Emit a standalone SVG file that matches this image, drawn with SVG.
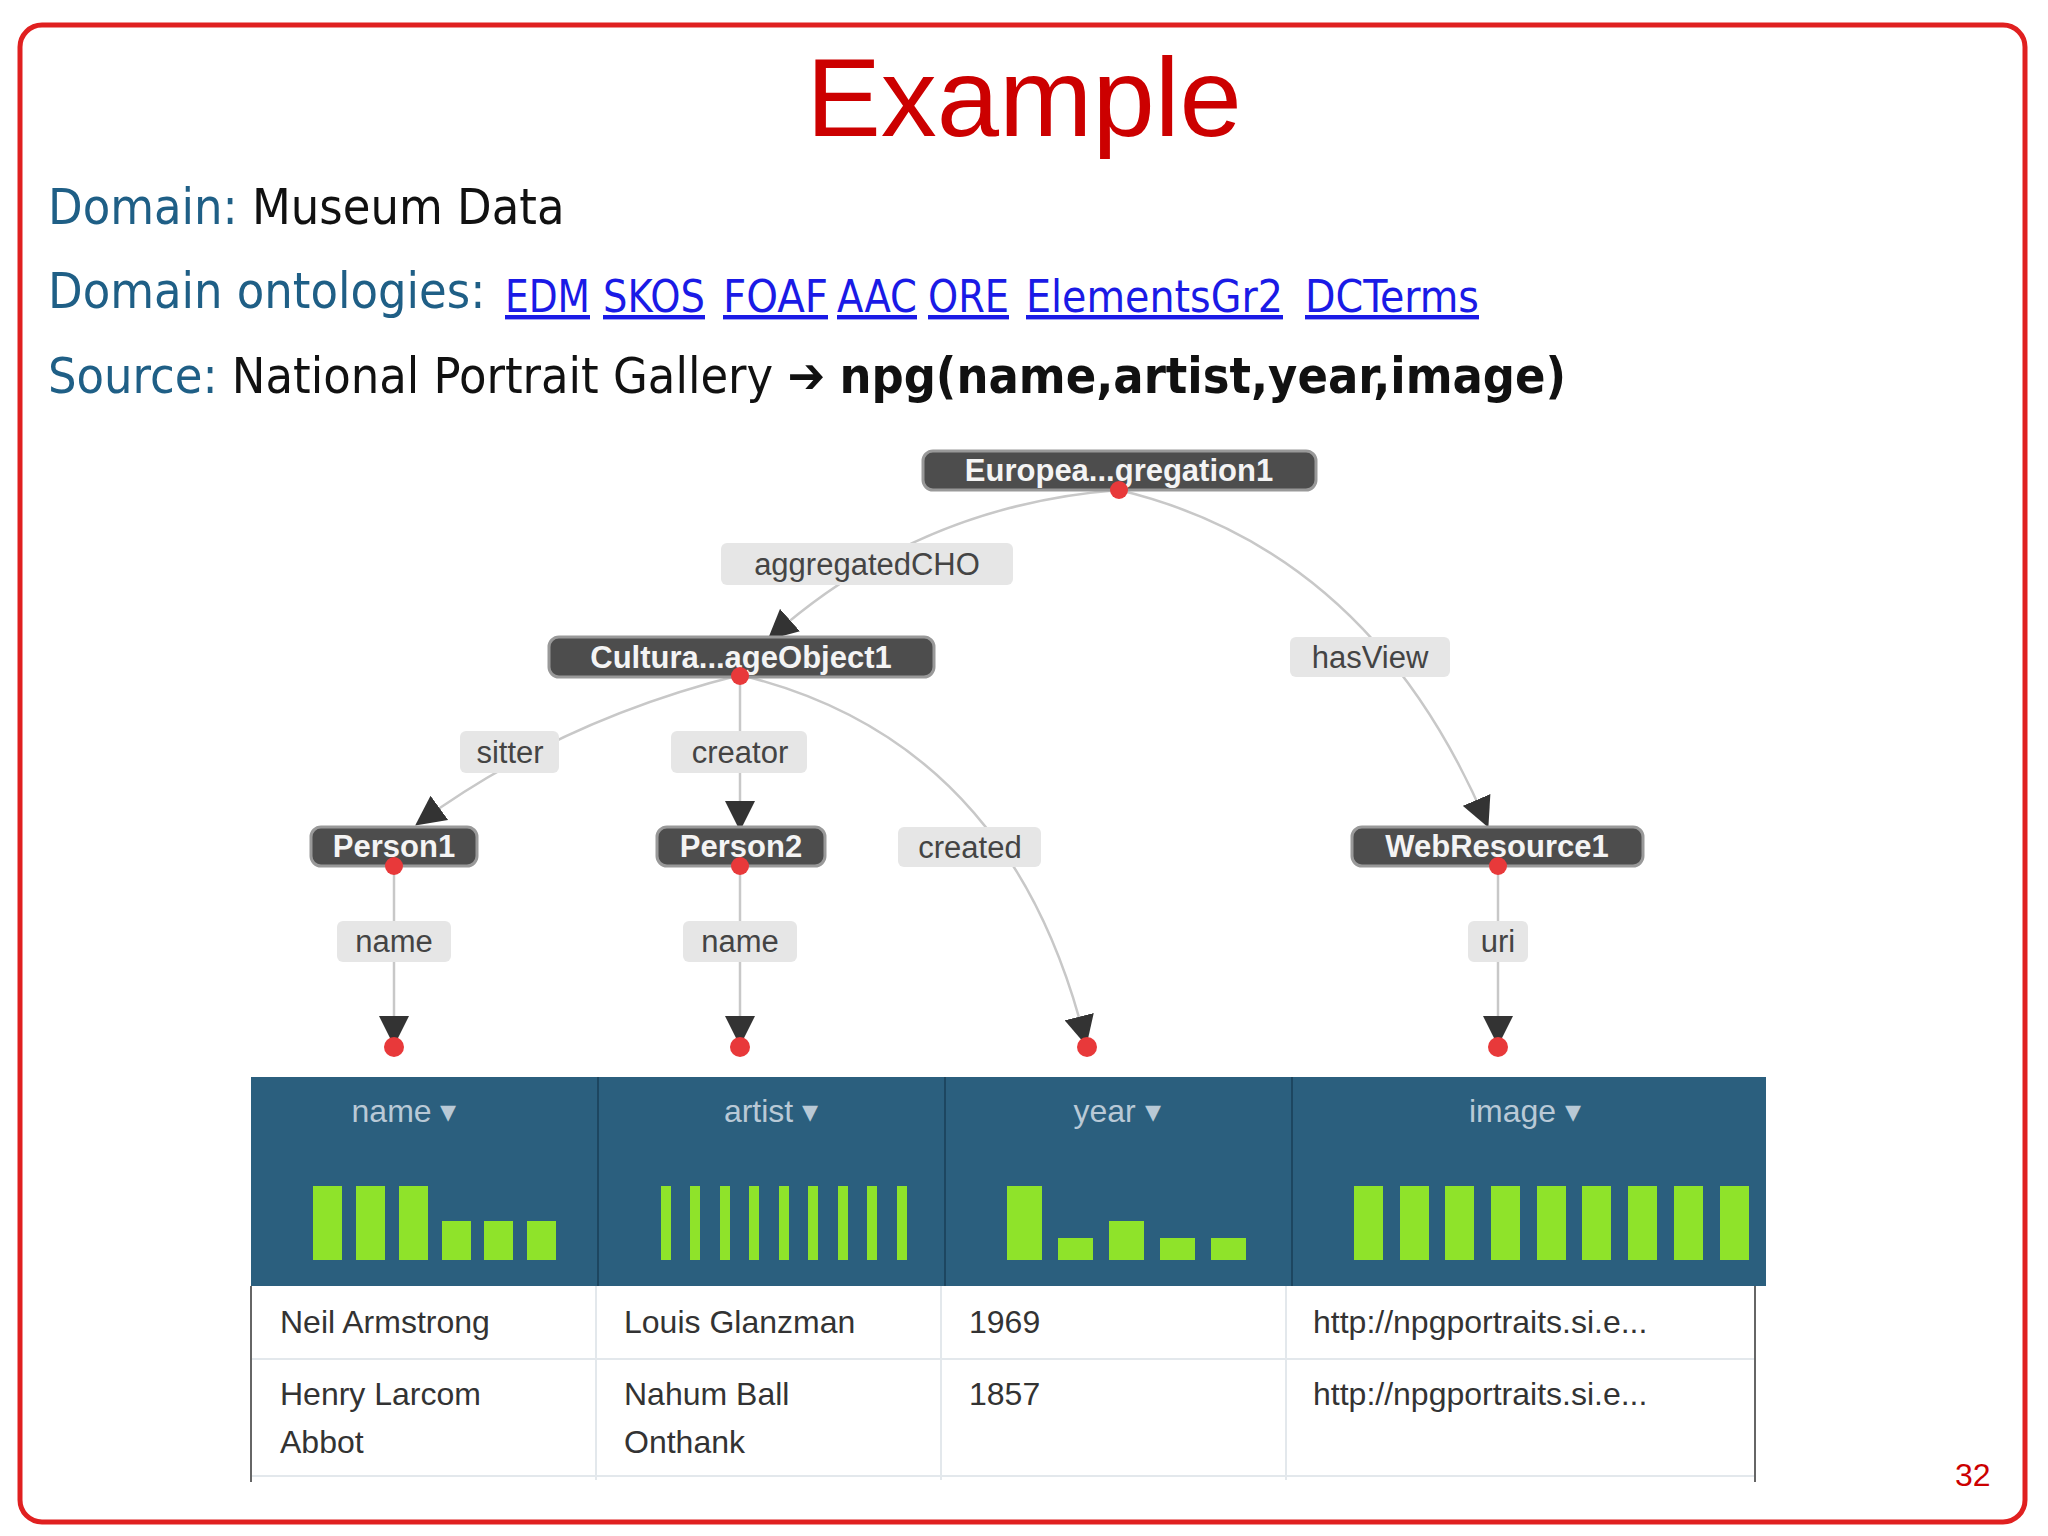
<svg xmlns="http://www.w3.org/2000/svg" width="2048" height="1536" viewBox="0 0 2048 1536">
<style>
.h{font-family:"DejaVu Sans Condensed","DejaVu Sans",sans-serif;font-size:50px}
.tl{fill:#1f5f86}.bk{fill:#111}
.lnk{font-family:"DejaVu Sans Condensed","DejaVu Sans",sans-serif;font-size:44px;fill:#1a1ae6;text-decoration:underline}
.node rect{fill:#4d4d4d;stroke:#999;stroke-width:3}
.node text{font-family:"Liberation Sans",Arial,sans-serif;font-weight:bold;font-size:31px;fill:#f4f4f4;text-anchor:middle}
.lab rect{fill:#e6e6e6}
.lab text{font-family:"Liberation Sans",Arial,sans-serif;font-size:31px;fill:#444;text-anchor:middle}
.e{fill:none;stroke:#c8c8c8;stroke-width:2.5}
.dot{fill:#e8393a}
.hd{font-family:"Liberation Sans",Arial,sans-serif;font-size:32px;fill:#b9c9d6;text-anchor:middle}
.cell{font-family:"Liberation Sans",Arial,sans-serif;font-size:32px;fill:#333}
.bar{fill:#8fe32a}
</style>
<defs>
<marker id="ah2" viewBox="0 0 10 10" refX="8" refY="5" markerWidth="30" markerHeight="30" markerUnits="userSpaceOnUse" orient="auto"><path d="M0,0 L10,5 L0,10 z" fill="#333"/></marker>
</defs>
<rect width="2048" height="1536" fill="#fff"/>
<rect x="20" y="25" width="2005" height="1497" rx="22" fill="#fff" stroke="#e02020" stroke-width="5"/>
<text x="1024" y="136" text-anchor="middle" font-family="Liberation Sans,Arial,sans-serif" font-size="112" fill="#cc0000">Example</text>
<text class="h" x="48" y="224"><tspan class="tl">Domain: </tspan><tspan class="bk">Museum Data</tspan></text>
<text class="h" x="48" y="308"><tspan class="tl">Domain ontologies:</tspan></text>
<text class="lnk" x="505" y="312" textLength="85" lengthAdjust="spacingAndGlyphs">EDM</text>
<text class="lnk" x="603" y="312" textLength="102" lengthAdjust="spacingAndGlyphs">SKOS</text>
<text class="lnk" x="723" y="312" textLength="105" lengthAdjust="spacingAndGlyphs">FOAF</text>
<text class="lnk" x="837" y="312" textLength="80" lengthAdjust="spacingAndGlyphs">AAC</text>
<text class="lnk" x="928" y="312" textLength="81" lengthAdjust="spacingAndGlyphs">ORE</text>
<text class="lnk" x="1026" y="312" textLength="257" lengthAdjust="spacingAndGlyphs">ElementsGr2</text>
<text class="lnk" x="1305" y="312" textLength="174" lengthAdjust="spacingAndGlyphs">DCTerms</text>
<text class="h" x="48" y="393"><tspan class="tl">Source: </tspan><tspan class="bk">National Portrait Gallery ➔ </tspan><tspan class="bk" font-weight="bold">npg(name,artist,year,image)</tspan></text>

<g id="connectors">
<path class="e" d="M1119,490 Q920,505 772,636" marker-end="url(#ah2)"/>
<path class="e" d="M1119,490 Q1370,550 1486,822" marker-end="url(#ah2)"/>
<path class="e" d="M740,675 Q560,720 420,822" marker-end="url(#ah2)"/>
<path class="e" d="M740,675 L740,825" marker-end="url(#ah2)"/>
<path class="e" d="M740,675 Q1010,740 1085,1040" marker-end="url(#ah2)"/>
<path class="e" d="M394,866 L394,1040" marker-end="url(#ah2)"/>
<path class="e" d="M740,866 L740,1040" marker-end="url(#ah2)"/>
<path class="e" d="M1498,866 L1498,1040" marker-end="url(#ah2)"/>
</g>

<g id="edge-labels">
<g class="lab" id="l-agg"><rect x="721" y="543" width="292" height="42" rx="6"/><text x="867" y="575">aggregatedCHO</text></g>
<g class="lab" id="l-hasview"><rect x="1290" y="637" width="160" height="40" rx="6"/><text x="1370" y="668">hasView</text></g>
<g class="lab" id="l-sitter"><rect x="460" y="731" width="99" height="42" rx="6"/><text x="510" y="763">sitter</text></g>
<g class="lab" id="l-creator"><rect x="671" y="731" width="136" height="42" rx="6"/><text x="740" y="763">creator</text></g>
<g class="lab" id="l-created"><rect x="898" y="827" width="143" height="40" rx="6"/><text x="970" y="858">created</text></g>
<g class="lab" id="l-name1"><rect x="337" y="921" width="114" height="41" rx="6"/><text x="394" y="952">name</text></g>
<g class="lab" id="l-name2"><rect x="683" y="921" width="114" height="41" rx="6"/><text x="740" y="952">name</text></g>
<g class="lab" id="l-uri"><rect x="1468" y="921" width="60" height="41" rx="6"/><text x="1498" y="952">uri</text></g>
</g>

<g class="node" id="n-europeana"><rect x="923" y="451" width="393" height="39" rx="10"/><text x="1119" y="481">Europea...gregation1</text></g>
<g class="node" id="n-cho"><rect x="549" y="637" width="385" height="40" rx="10"/><text x="741" y="668">Cultura...ageObject1</text></g>
<g class="node" id="n-person1"><rect x="311" y="827" width="166" height="39" rx="10"/><text x="394" y="857">Person1</text></g>
<g class="node" id="n-person2"><rect x="657" y="827" width="168" height="39" rx="10"/><text x="741" y="857">Person2</text></g>
<g class="node" id="n-web"><rect x="1352" y="827" width="291" height="39" rx="10"/><text x="1497" y="857">WebResource1</text></g>

<g id="dots">
<circle class="dot" cx="1119" cy="490" r="9"/><circle class="dot" cx="740" cy="676" r="9"/>
<circle class="dot" cx="394" cy="866" r="9"/><circle class="dot" cx="740" cy="866" r="9"/><circle class="dot" cx="1498" cy="866" r="9"/>
<circle class="dot" cx="394" cy="1047" r="10"/><circle class="dot" cx="740" cy="1047" r="10"/><circle class="dot" cx="1087" cy="1047" r="10"/><circle class="dot" cx="1498" cy="1047" r="10"/>
</g>

<g id="table">
<rect x="251" y="1077" width="1515" height="209" fill="#2b5f7e"/>
<g stroke="#1d4660" stroke-width="2"><line x1="598" y1="1077" x2="598" y2="1286"/><line x1="945" y1="1077" x2="945" y2="1286"/><line x1="1292" y1="1077" x2="1292" y2="1286"/></g>
<text class="hd" x="404" y="1122">name ▾</text>
<text class="hd" x="771" y="1122">artist ▾</text>
<text class="hd" x="1117" y="1122">year ▾</text>
<text class="hd" x="1525" y="1122">image ▾</text>
<g class="bar">
<rect x="313" y="1186" width="29" height="74"/><rect x="356" y="1186" width="29" height="74"/><rect x="399" y="1186" width="29" height="74"/><rect x="442" y="1221" width="29" height="39"/><rect x="484" y="1221" width="29" height="39"/><rect x="527" y="1221" width="29" height="39"/>
<rect x="661" y="1186" width="10" height="74"/><rect x="690" y="1186" width="10" height="74"/><rect x="720" y="1186" width="10" height="74"/><rect x="749" y="1186" width="10" height="74"/><rect x="779" y="1186" width="10" height="74"/><rect x="808" y="1186" width="10" height="74"/><rect x="838" y="1186" width="10" height="74"/><rect x="867" y="1186" width="10" height="74"/><rect x="897" y="1186" width="10" height="74"/>
<rect x="1007" y="1186" width="35" height="74"/><rect x="1058" y="1238" width="35" height="22"/><rect x="1109" y="1221" width="35" height="39"/><rect x="1160" y="1238" width="35" height="22"/><rect x="1211" y="1238" width="35" height="22"/>
<rect x="1354" y="1186" width="29" height="74"/><rect x="1400" y="1186" width="29" height="74"/><rect x="1445" y="1186" width="29" height="74"/><rect x="1491" y="1186" width="29" height="74"/><rect x="1537" y="1186" width="29" height="74"/><rect x="1582" y="1186" width="29" height="74"/><rect x="1628" y="1186" width="29" height="74"/><rect x="1674" y="1186" width="29" height="74"/><rect x="1720" y="1186" width="29" height="74"/>
</g>
<g stroke="#e3e8ec" stroke-width="2" fill="none">
<line x1="251" y1="1359" x2="1754" y2="1359"/><line x1="251" y1="1476" x2="1754" y2="1476"/>
<line x1="596" y1="1286" x2="596" y2="1480"/><line x1="941" y1="1286" x2="941" y2="1480"/><line x1="1286" y1="1286" x2="1286" y2="1480"/>
</g>
<line x1="251" y1="1286" x2="251" y2="1482" stroke="#666" stroke-width="2"/>
<line x1="1755" y1="1286" x2="1755" y2="1482" stroke="#666" stroke-width="2"/>
<text class="cell" x="280" y="1333">Neil Armstrong</text>
<text class="cell" x="624" y="1333">Louis Glanzman</text>
<text class="cell" x="969" y="1333">1969</text>
<text class="cell" x="1313" y="1333">http://npgportraits.si.e...</text>
<text class="cell" x="280" y="1405">Henry Larcom</text><text class="cell" x="280" y="1453">Abbot</text>
<text class="cell" x="624" y="1405">Nahum Ball</text><text class="cell" x="624" y="1453">Onthank</text>
<text class="cell" x="969" y="1405">1857</text>
<text class="cell" x="1313" y="1405">http://npgportraits.si.e...</text>
</g>
<text x="1955" y="1486" font-family="Liberation Sans,Arial,sans-serif" font-size="32" fill="#cc0000">32</text>
</svg>
